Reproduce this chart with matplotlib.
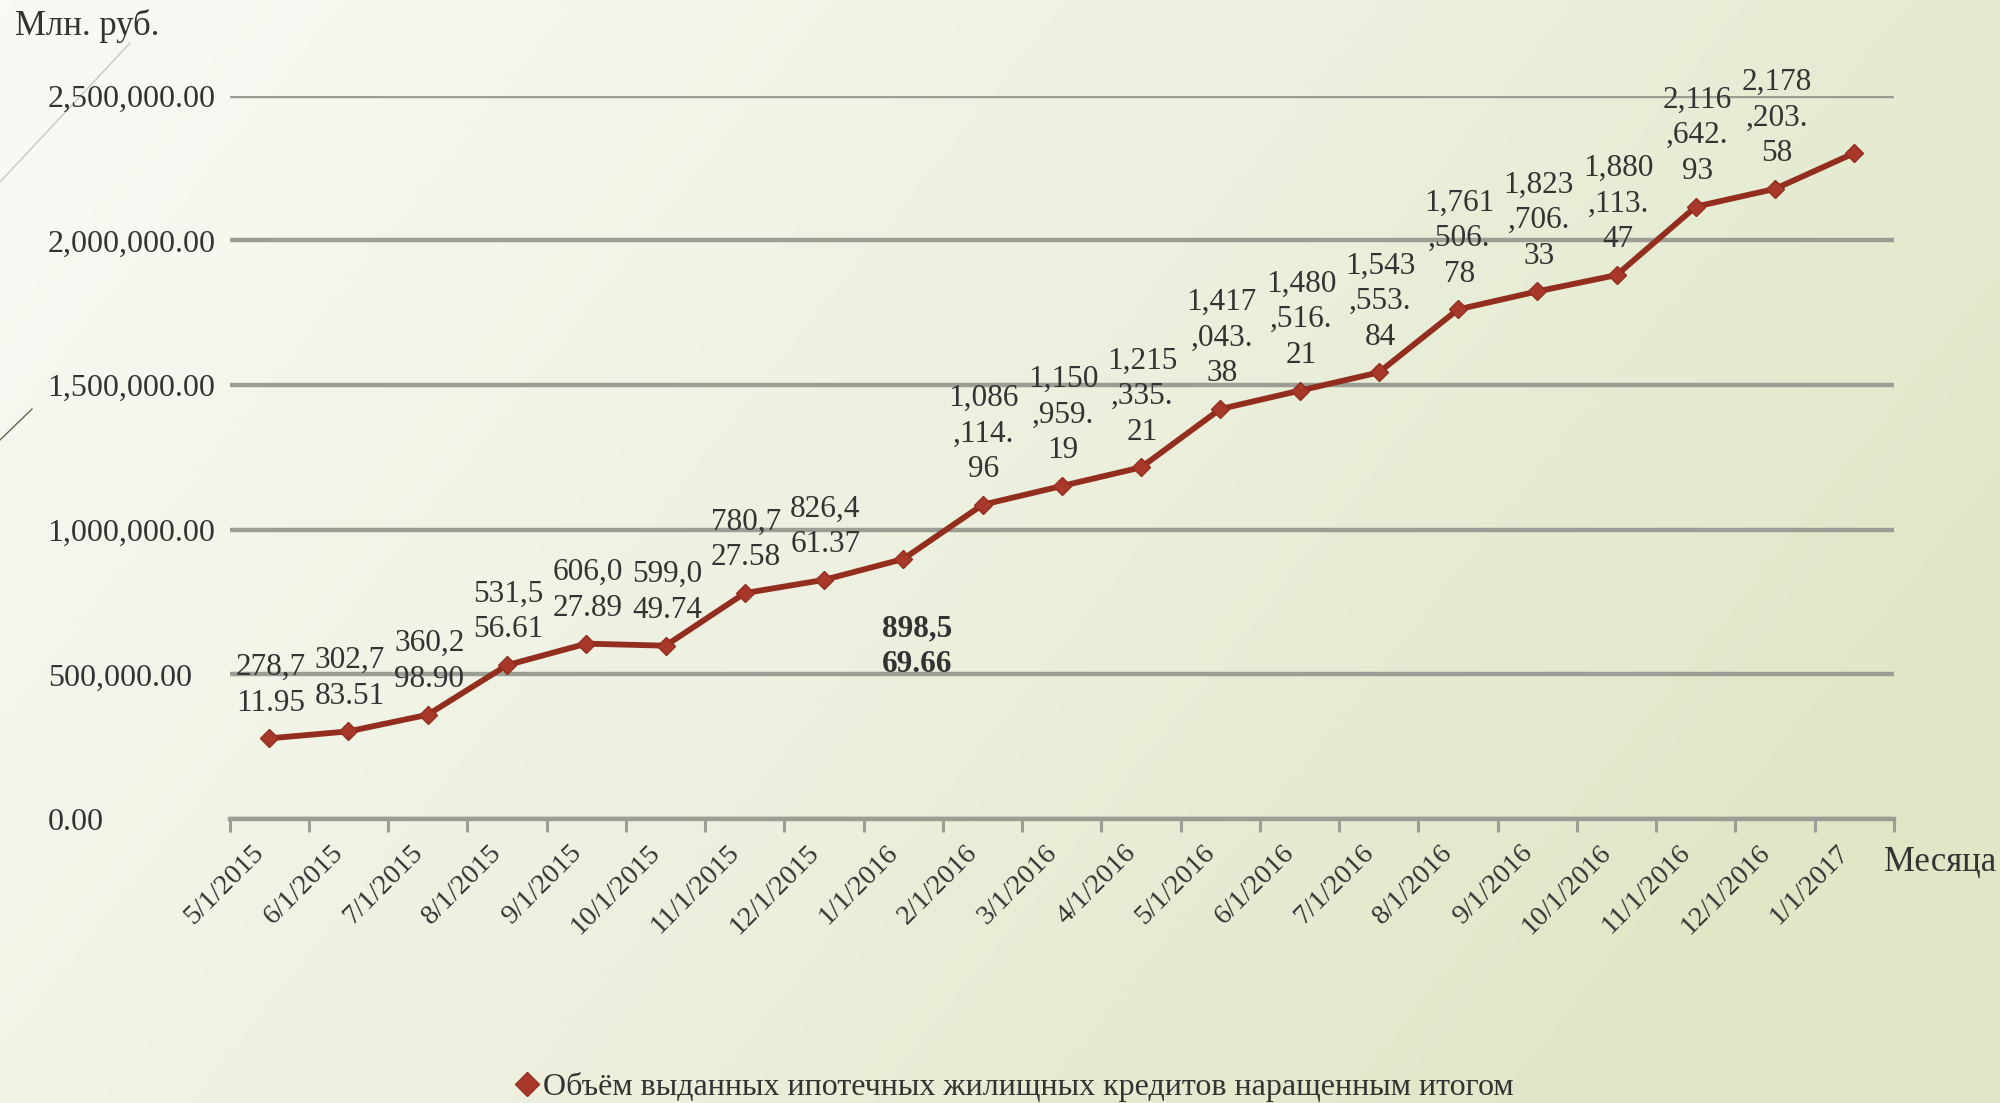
import numpy as np
import matplotlib
matplotlib.use("Agg")
import matplotlib.pyplot as plt
from matplotlib.colors import LinearSegmentedColormap
from matplotlib.lines import Line2D

plt.rcParams['font.family'] = ['Liberation Serif', 'DejaVu Serif']

months = ["5/1/2015", "6/1/2015", "7/1/2015", "8/1/2015", "9/1/2015",
          "10/1/2015", "11/1/2015", "12/1/2015", "1/1/2016", "2/1/2016",
          "3/1/2016", "4/1/2016", "5/1/2016", "6/1/2016", "7/1/2016",
          "8/1/2016", "9/1/2016", "10/1/2016", "11/1/2016", "12/1/2016",
          "1/1/2017"]

volume = [278711.95, 302783.51, 360298.90, 531556.61, 606027.89,
          599049.74, 780727.58, 826461.37, 898569.66, 1086114.96,
          1150959.19, 1215335.21, 1417043.38, 1480516.21, 1543553.84,
          1761506.78, 1823706.33, 1880113.47, 2116642.93, 2178203.58,
          2302000.00]

# last point has no label in the original
labeled = [True] * 20 + [False]

y_ticks = [0, 500000, 1000000, 1500000, 2000000, 2500000]

series_name = "Объём выданных ипотечных жилищных кредитов наращенным итогом"

line_color = "#932e1f"
grid_color = "#9c9e96"
text_color = "#333333"


def wrap_label(v, width=5):
    s = f"{v:,.2f}"
    return "\n".join(s[i:i + width] for i in range(0, len(s), width))


fig = plt.figure(figsize=(20, 11.03), dpi=100)

# background gradient
bg = fig.add_axes([0, 0, 1, 1], zorder=0)
gx, gy = np.meshgrid(np.linspace(0, 1, 400), np.linspace(0, 1, 220))
grad = np.clip(0.8 * gx + 0.35 * gy, 0, 1)
cmap = LinearSegmentedColormap.from_list("bg", ["#f9faf5", "#eef1e1", "#dfe7c6"])
bg.imshow(grad, cmap=cmap, aspect="auto", extent=[0, 1, 0, 1], origin="upper")
bg.plot([0, 0.065], [1 - 182 / 1103, 1 - 43 / 1103], color="#c9c9bd", lw=1)
bg.plot([0, 0.016], [1 - 440 / 1103, 1 - 409 / 1103], color="#6b6453", lw=1)
bg.set_xlim(0, 1)
bg.set_ylim(0, 1)
bg.axis("off")

ax = fig.add_axes([0.1148, 0.2575, 0.8322, 0.6557], zorder=1)
ax.patch.set_alpha(0)

x = np.arange(len(months))
ax.plot(x, volume, color=line_color, lw=4.2, marker="D", markersize=9,
        markerfacecolor="#a8382a", markeredgecolor=line_color, zorder=3,
        clip_on=False)

for xi, v, lab in zip(x, volume, labeled):
    if not lab:
        continue
    if months[xi] == "1/1/2016":
        ax.annotate(wrap_label(v), (xi, v), xytext=(10, -40),
                    textcoords="offset points", ha="center", va="top",
                    fontsize=22.5, fontweight="bold", color=text_color,
                    linespacing=1.3, annotation_clip=False)
    else:
        ax.annotate(wrap_label(v), (xi, v), xytext=(1, 15),
                    textcoords="offset points", ha="center", va="bottom",
                    fontsize=22.5, color=text_color, linespacing=1.3,
                    annotation_clip=False)

ax.set_xlim(-0.5, len(months) - 0.5)
ax.set_ylim(0, 2500000)

ax.set_yticks(y_ticks)
ax.set_yticklabels([f"{t:,.2f}" for t in y_ticks], ha="left")
ax.tick_params(axis="y", length=0, pad=131, labelsize=23, labelcolor=text_color)
ax.grid(axis="y", color=grid_color, lw=3.2)
ax.set_axisbelow(True)

ax.set_xticks(x)
ax.set_xticklabels(months, rotation=45, ha="right", va="top")
ax.set_xticks(np.arange(-0.5, len(months)), minor=True)
ax.tick_params(axis="x", which="major", length=0, pad=15, labelsize=20.5,
               labelcolor=text_color)
ax.tick_params(axis="x", which="minor", length=9, width=2.2, color=grid_color)

for side in ["top", "right", "left"]:
    ax.spines[side].set_visible(False)
ax.spines["bottom"].set_color(grid_color)
ax.spines["bottom"].set_linewidth(3.2)

fig.text(15 / 2000, 1 - 26 / 1103, "Млн. руб.", fontsize=25, color=text_color,
         ha="left", va="center")
fig.text(1884 / 2000, 1 - 862 / 1103, "Месяца", fontsize=25, color=text_color,
         ha="left", va="center")

handle = Line2D([], [], color=line_color, marker="D", markersize=12,
                linestyle="none", markerfacecolor="#a8382a")
fig.legend([handle], [series_name], loc="center",
           bbox_to_anchor=(0.507, 1 - 1087 / 1103), frameon=False,
           fontsize=23, handletextpad=0.1, handlelength=0.8,
           labelcolor=text_color)

fig.savefig("out.png", dpi=100)
